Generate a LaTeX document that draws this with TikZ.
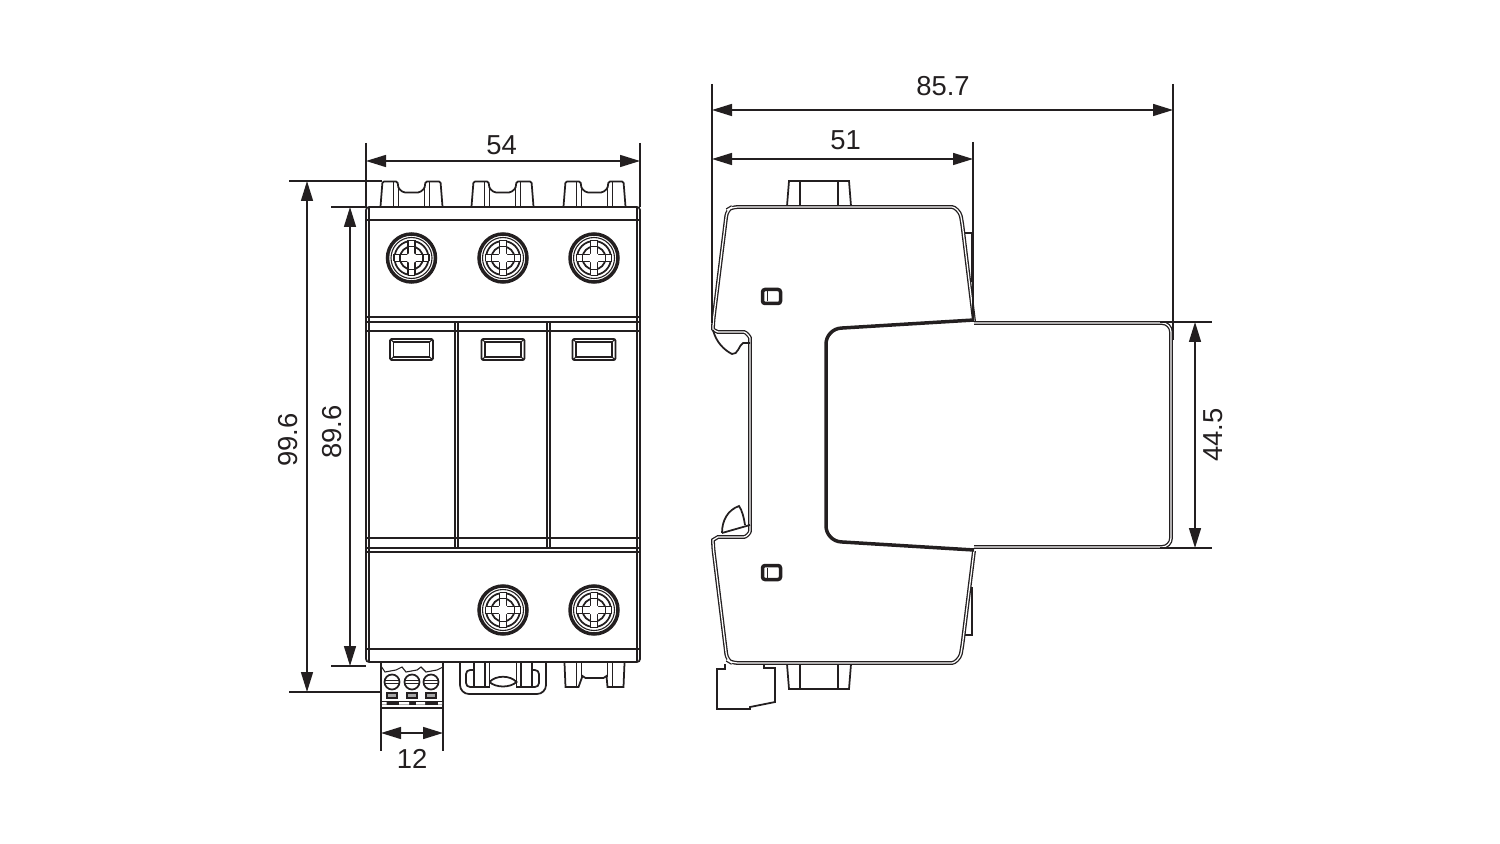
\documentclass[tikz,border=0pt]{standalone}
\usepackage{fontspec}
\setmainfont{Liberation Sans}
\usetikzlibrary{arrows.meta, calc}
\definecolor{inkblack}{RGB}{35, 31, 32}
\tikzset{
  dimline/.style={draw=inkblack, line width=0.3mm, {Triangle[length=4mm, width=2.4mm]}-{Triangle[length=4mm, width=2.4mm]}},
  extline/.style={draw=inkblack, line width=0.25mm},
  dimtext/.style={font=\fontsize{15.6}{18}\selectfont, text=inkblack, inner sep=0pt},
  thinline/.style={draw=inkblack, line width=0.22mm},
  midline/.style={draw=inkblack, line width=0.35mm},
  heavyline/.style={draw=inkblack, line width=0.7mm},
  shellline/.style={draw=inkblack, line width=0.26mm, double=white, double distance=0.25mm},
  pics/screwhead/.style={code={
    \draw[heavyline] (0,0) circle (24);
    \draw[thinline] (0,0) circle (20.5);
    \draw[midline] (0,0) circle (17);
    \draw[midline] (0,0) circle (11.5);
    \fill[white] (-3.5,-17.5) rectangle (3.5,17.5) (-17.5,-3.5) rectangle (17.5,3.5);
    \draw[midline] (-3.5,-17.5) -- (3.5,-17.5) (-3.5,17.5) -- (3.5,17.5) (-17.5,-3.5) -- (-17.5,3.5) (17.5,-3.5) -- (17.5,3.5);
    \draw[midline] (-3.5,-17.5) -- (-3.5,-3.5) -- (-17.5,-3.5) (3.5,-17.5) -- (3.5,-3.5) -- (17.5,-3.5)
      (-3.5,17.5) -- (-3.5,3.5) -- (-17.5,3.5) (3.5,17.5) -- (3.5,3.5) -- (17.5,3.5);
    \draw[thinline] (-3.5,-11.5) -- (3.5,-11.5) (-3.5,11.5) -- (3.5,11.5) (-11.5,-3.5) -- (-11.5,3.5) (11.5,-3.5) -- (11.5,3.5);
    \fill[white] (0,0) circle (5.5);
  }},
  pics/clamptop/.style={code={
    \draw[midline, rounded corners=0.3mm] (-31,26) -- (-29,1) -- (-14,1) -- (-13,8) -- (-8,12) -- (8,12) -- (13,8) -- (14,1) -- (29,1) -- (31,26);
    \draw[thinline] (-18,1) -- (-18,26) (-13,8) -- (-13,26) (13,8) -- (13,26) (18,1) -- (18,26);
  }},
  pics/clampbot/.style={code={
    \draw[midline] (-30,0) -- (-29,24) -- (-16,24) -- (-12,13) -- (-9,15) -- (9,15) -- (12,13) -- (13,24) -- (29,24) -- (30,0);
    \draw[thinline] (-18,0) -- (-18,24) (-13,0) -- (-13,14) (13,0) -- (13,14) (18,0) -- (18,24);
  }},
  pics/clampmid/.style={code={
    \draw[midline] (-29,0) -- (-29,24) -- (-13.5,24) -- (-13.5,0) (13.5,0) -- (13.5,24) -- (29,24) -- (29,0);
    \draw[thinline] (-18,0) -- (-18,24) (18,0) -- (18,24);
    \draw[midline] (-13.5,19) .. controls (-7,12) and (7,12) .. (13.5,19) .. controls (7,25) and (-7,25) .. (-13.5,19);
  }},
  pics/clampside/.style={code={
    \draw[midline] (-32,25) -- (-30,0) -- (30,0) -- (32,25);
    \draw[thinline] (-19,0) -- (-19,25) (19,0) -- (19,25);
  }},
  pics/sidewindow/.style={code={
    \draw[heavyline, rounded corners=0.5mm] (-9,-7) rectangle (9,7);
    \draw[thinline] (-4,-5) -- (-4,5);
  }},
  pics/frontwindow/.style={code={
    \draw[midline, rounded corners=0.3mm] (-21.5,-10.5) rectangle (21.5,10.5);
    \draw[thinline] (-18,-7.5) rectangle (18,7.5);
    \draw[thinline] (-21.5,-10.5) -- (-18,-7.5) (21.5,-10.5) -- (18,-7.5) (-21.5,10.5) -- (-18,7.5) (21.5,10.5) -- (18,7.5);
  }},
  pics/wirescrew/.style={code={
    \draw[midline] (0,0) circle (7.5);
    \draw[thinline] (-7,-1.5) -- (7,-1.5) (-7,1.5) -- (7,1.5);
    \draw[thinline, fill=black!35] (-5,11) rectangle (5,16);
  }}
}

\begin{document}
\begin{tikzpicture}[x=0.02cm, y=-0.02cm]
  \useasboundingbox (0,0) rectangle (1500,844);

  % Front view
  \foreach \cx in {411.5, 502.5, 594.5} {
    \pic at (\cx,180.5) {clamptop};
  }
  \draw[midline, rounded corners=0.6mm] (366,207) rectangle (640,662);
  \draw[thinline] (369,207) -- (369,662) (637,207) -- (637,662);
  \draw[thinline] (366,220) -- (640,220) (366,649) -- (640,649);
  \draw[midline] (366,317) -- (640,317) (366,322) -- (640,322) (366,548) -- (640,548) (366,552) -- (640,552);
  \draw[thinline] (366,331) -- (640,331) (366,538) -- (640,538);
  \draw[midline] (455,322) -- (455,548) (547,322) -- (547,548);
  \draw[midline] (458,322) -- (458,548) (550,322) -- (550,548);
  \foreach \cx in {411.5, 503, 594} {
    \pic at (\cx,349.5) {frontwindow};
    \pic at (\cx,258) {screwhead};
  }
  \foreach \cx in {503, 594} {
    \pic at (\cx,610) {screwhead};
  }
  \pic at (594.5,663) {clampbot};
  \pic at (503,663) {clampmid};

  % Rail clip under the middle pole
  \draw[midline, rounded corners=1.8mm] (460,663) -- (460,694) -- (546,694) -- (546,663);
  \draw[midline, rounded corners=0.8mm] (474,670) -- (466,670) -- (466,687) -- (474,687);
  \draw[midline, rounded corners=0.8mm] (532,670) -- (539,670) -- (539,687) -- (532,687);

  % Signal connector
  \draw[midline] (381,663) -- (381,708) -- (443,708) -- (443,663);
  \draw[thinline] (381,666) -- (385,672) -- (396,670) -- (402,667) -- (406,672) -- (417,670) -- (421,667) -- (426,672) -- (437,670) -- (443,667);
  \foreach \cx in {392, 412, 431} {
    \pic at (\cx,682) {wirescrew};
  }
  \fill[inkblack] (381,701) rectangle (443,705);
  \fill[white] (382,702) rectangle (386.5,704.5) (399,702) rectangle (409,704.5) (416,702) rectangle (425,704.5) (438,702) rectangle (442,704.5);

  % Side view
  \pic at (819,181) {clampside};
  \pic[yscale=-1] at (819,689) {clampside};
  \draw[midline] (965,233) -- (972,233) -- (972,282) (965,635) -- (972,635) -- (972,587);
  \draw[shellline, rounded corners=1.2mm] (974,321) -- (962,222) .. controls (960,212) and (955,207) .. (946,207)
    -- (732,207) -- (727,210) -- (713,323) .. controls (713,330) and (718,332) .. (724,332)
    -- (738,332) .. controls (746,332) and (750,337) .. (750,344) -- (750,525)
    .. controls (750,533) and (746,537) .. (738,537) -- (724,537) .. controls (718,537) and (713,540) .. (713,546)
    -- (727,660) -- (732,663) -- (946,663) .. controls (955,663) and (960,658) .. (962,648) -- (974,551);
  \draw[heavyline, rounded corners=3mm] (974,320) -- (826,329) -- (826,541) -- (974,550);
  \draw[shellline, rounded corners=1.8mm] (974,323) -- (1171,323) -- (1171,547) -- (974,547);

  % Latch hooks
  \draw[midline] (713,330) .. controls (716,342) and (724,350) .. (732,354) .. controls (738,355) and (739,345) .. (743,343) -- (750,343);
  \draw[midline] (722,533) .. controls (722,520) and (728,510) .. (739,506) .. controls (742,510) and (744,518) .. (745,525);
  \draw[midline] (722,533) -- (750,525);
  \pic at (771.5,296.5) {sidewindow};
  \pic at (771.5,572.5) {sidewindow};

  % Signal connector, side
  \draw[midline] (725,664) -- (725,669) -- (717,669) -- (717,709) -- (750,709) -- (750,707) -- (775,702) -- (775,668) -- (764,668) -- (764,664);

  % Dimension points
  \coordinate (wideL) at (366,161);
  \coordinate (wideR) at (640,161);
  \coordinate (wideLtop) at (366,143);
  \coordinate (wideLbot) at (366,207);
  \coordinate (wideRtop) at (640,143);
  \coordinate (wideRbot) at (640,207);
  \coordinate (tallT) at (307,181);
  \coordinate (tallB) at (307,692);
  \coordinate (tallTa) at (289,181);
  \coordinate (tallTb) at (382,181);
  \coordinate (tallBa) at (289,692);
  \coordinate (tallBb) at (381,692);
  \coordinate (bodyT) at (350,207);
  \coordinate (bodyB) at (350,666);
  \coordinate (bodyTa) at (331,207);
  \coordinate (bodyTb) at (366,207);
  \coordinate (bodyBa) at (331,666);
  \coordinate (bodyBb) at (366,666);
  \coordinate (plugL) at (381,733);
  \coordinate (plugR) at (443,733);
  \coordinate (plugLa) at (381,708);
  \coordinate (plugLb) at (381,751);
  \coordinate (plugRa) at (443,708);
  \coordinate (plugRb) at (443,751);
  \coordinate (depthL) at (712,110);
  \coordinate (depthR) at (1173,110);
  \coordinate (depthLa) at (712,84);
  \coordinate (depthLb) at (712,323);
  \coordinate (depthRa) at (1173,84);
  \coordinate (depthRb) at (1173,340);
  \coordinate (neckL) at (712,159);
  \coordinate (neckR) at (973,159);
  \coordinate (neckRa) at (973,142);
  \coordinate (neckRb) at (973,320);
  \coordinate (capT) at (1195,322);
  \coordinate (capB) at (1195,548);
  \coordinate (capTa) at (1160,322);
  \coordinate (capTb) at (1212,322);
  \coordinate (capBa) at (1160,548);
  \coordinate (capBb) at (1212,548);

  % Extension lines
  \draw[extline] (wideLtop) -- (wideLbot);
  \draw[extline] (wideRtop) -- (wideRbot);
  \draw[extline] (tallTa) -- (tallTb);
  \draw[extline] (tallBa) -- (tallBb);
  \draw[extline] (bodyTa) -- (bodyTb);
  \draw[extline] (bodyBa) -- (bodyBb);
  \draw[extline] (plugLa) -- (plugLb);
  \draw[extline] (plugRa) -- (plugRb);
  \draw[extline] (depthLa) -- (depthLb);
  \draw[extline] (depthRa) -- (depthRb);
  \draw[extline] (neckRa) -- (neckRb);
  \draw[extline] (capTa) -- (capTb);
  \draw[extline] (capBa) -- (capBb);

  % Dimensions
  \draw[dimline] (wideL) -- (wideR);
  \draw[dimline] (tallT) -- (tallB);
  \draw[dimline] (bodyT) -- (bodyB);
  \draw[dimline] (plugL) -- (plugR);
  \draw[dimline] (depthL) -- (depthR);
  \draw[dimline] (neckL) -- (neckR);
  \draw[dimline] (capT) -- (capB);

  \node[dimtext] (wideLabel) at (501.5,145) {54};
  \node[dimtext] (plugLabel) at (412,759) {12};
  \node[dimtext] (depthLabel) at (943,86) {85.7};
  \node[dimtext] (neckLabel) at (845.5,140) {51};
  \node[dimtext, rotate=90] (tallLabel) at (288,440) {99.6};
  \node[dimtext, rotate=90] (bodyLabel) at (332,432) {89.6};
  \node[dimtext, rotate=90] (capLabel) at (1213,435) {44.5};
\end{tikzpicture}
\end{document}
